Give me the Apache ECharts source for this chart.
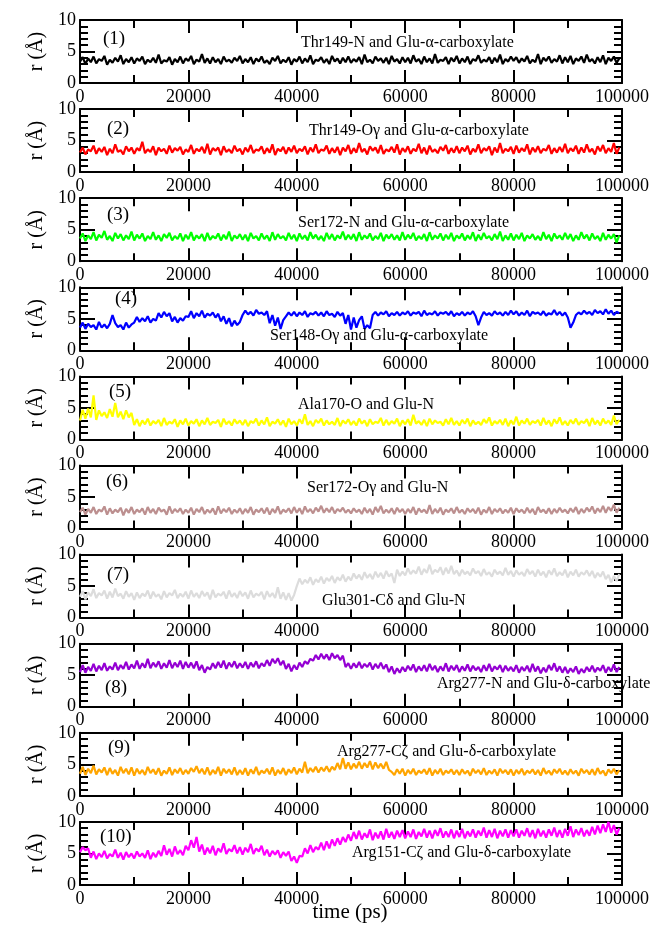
<!DOCTYPE html>
<html>
<head>
<meta charset="utf-8">
<script src="https://cdn.jsdelivr.net/npm/echarts@6/dist/echarts.min.js"></script>
<style>
html,body{margin:0;padding:0;background:#fff}
#main{width:669px;height:933px}
</style>
</head>
<body>
<div id="main"></div>
<script>
// sampling interval of the trajectories (ps)
var timeStep = 500;

var panelTags = ['(1)','(2)','(3)','(4)','(5)','(6)','(7)','(8)','(9)','(10)'];
var panelTitles = [
    'Thr149-N and Glu-α-carboxylate',
    'Thr149-Oγ and Glu-α-carboxylate',
    'Ser172-N and Glu-α-carboxylate',
    'Ser148-Oγ and Glu-α-carboxylate',
    'Ala170-O and Glu-N',
    'Ser172-Oγ and Glu-N',
    'Glu301-Cδ and Glu-N',
    'Arg277-N and Glu-δ-carboxylate',
    'Arg277-Cζ and Glu-δ-carboxylate',
    'Arg151-Cζ and Glu-δ-carboxylate'
];

// distances r (A), one value every 500 ps
var d1 = [3.4,4.1,3.0,3.9,3.3,4.2,3.1,3.8,3.5,4.3,2.9,3.7,3.2,4.0,3.4,4.4,3.0,3.8,3.3,4.1,
    3.1,3.9,3.5,4.2,3.0,3.7,3.3,4.0,3.2,4.5,3.1,3.6,3.4,4.1,2.9,3.8,3.3,4.2,3.1,3.9,
    3.5,4.3,3.0,3.7,3.4,4.6,3.2,3.9,3.1,4.1,3.3,3.8,3.0,4.2,3.4,3.7,3.2,4.0,3.5,4.3,
    3.1,3.8,3.3,4.1,3.0,3.9,3.4,4.2,3.2,3.6,3.0,4.0,3.5,4.3,3.1,3.7,3.3,4.1,2.9,3.8,
    3.4,4.2,3.1,3.9,3.3,4.4,3.0,3.7,3.5,4.1,3.2,3.8,3.0,4.3,3.4,3.9,3.1,4.0,3.3,4.2,
    3.2,3.8,3.4,4.1,3.0,4.5,3.3,3.7,3.1,4.2,3.5,3.9,3.2,4.0,3.0,4.3,3.4,3.8,3.1,4.1,
    3.3,4.0,3.1,4.4,3.4,3.8,3.0,4.2,3.3,3.9,3.1,4.6,3.2,3.7,3.5,4.1,3.0,4.0,3.4,4.3,
    3.1,3.9,3.3,4.2,3.0,3.8,3.5,4.4,3.2,3.7,3.4,4.1,3.1,4.0,3.3,4.5,3.0,3.8,3.4,4.2,
    3.5,4.1,3.2,3.9,3.4,4.3,3.1,3.7,3.3,4.6,3.0,4.0,3.5,4.2,3.2,3.8,3.4,4.4,3.1,4.1,
    3.3,4.3,3.0,3.9,3.5,4.2,3.2,4.5,3.4,3.8,3.1,4.1,3.3,4.4,3.0,4.0,3.5,4.2,3.2,3.9];
var d2 = [3.1,3.9,2.8,3.6,3.3,4.2,2.9,3.8,3.2,4.0,2.7,3.7,3.0,4.4,3.2,3.5,2.8,4.1,3.3,3.9,
    2.9,3.8,3.4,4.8,3.0,3.6,3.2,4.1,2.7,3.9,3.3,3.7,2.9,4.2,3.1,3.8,3.4,4.0,2.8,3.6,
    3.2,4.3,2.9,3.7,3.3,4.0,3.0,4.5,2.8,3.8,3.4,3.9,2.7,4.1,3.2,3.6,3.0,4.2,3.3,3.7,
    2.8,3.9,3.2,4.3,3.0,3.6,3.4,4.1,2.9,3.8,3.1,4.4,2.7,3.7,3.3,4.0,2.9,3.9,3.2,4.2,
    3.0,3.7,3.3,4.1,2.8,3.9,3.2,4.4,3.0,3.6,3.4,4.2,2.9,3.8,3.1,4.0,2.7,3.9,3.3,4.3,
    2.9,3.8,3.1,4.6,3.2,3.7,2.8,4.1,3.4,3.9,3.0,4.3,2.9,3.6,3.3,4.0,3.1,4.4,2.8,3.8,
    3.2,4.1,2.9,3.7,3.3,4.5,3.0,3.9,2.8,4.2,3.2,3.6,3.0,4.0,3.4,4.3,2.9,3.8,3.1,4.1,
    3.0,3.9,3.3,4.2,2.8,3.7,3.2,4.4,3.0,3.8,3.4,4.1,2.7,3.9,3.1,4.6,3.0,3.7,3.3,4.0,
    2.9,4.2,3.1,3.8,3.3,4.4,2.8,3.9,3.2,4.1,3.0,3.7,3.4,4.3,2.9,3.8,3.1,4.0,3.2,4.5,
    3.0,3.8,3.3,4.2,2.9,3.9,3.1,4.4,3.2,3.7,2.8,4.1,3.3,4.3,3.0,3.8,3.2,4.6,2.9,3.9];
var d3 = [3.6,4.4,3.2,4.1,3.5,4.6,3.3,4.2,3.7,4.8,3.4,4.0,3.2,4.5,3.6,4.3,3.3,4.1,3.5,4.7,
    3.3,4.2,3.6,4.4,3.2,4.0,3.5,4.6,3.4,4.1,3.2,4.3,3.7,4.5,3.3,4.0,3.5,4.4,3.2,4.2,
    3.5,4.6,3.3,4.1,3.6,4.3,3.2,4.5,3.4,4.0,3.6,4.4,3.3,4.2,3.5,4.7,3.2,4.1,3.6,4.3,
    3.4,4.2,3.2,4.5,3.6,4.0,3.3,4.4,3.5,4.1,3.2,4.6,3.4,4.3,3.6,4.0,3.3,4.5,3.5,4.2,
    3.2,4.4,3.5,4.1,3.3,4.6,3.6,4.2,3.4,4.0,3.2,4.5,3.5,4.3,3.3,4.1,3.6,4.7,3.4,4.2,
    3.5,4.3,3.2,4.6,3.4,4.1,3.6,4.4,3.3,4.0,3.5,4.5,3.2,4.2,3.6,4.3,3.4,4.1,3.3,4.6,
    3.4,4.2,3.6,4.5,3.3,4.0,3.5,4.3,3.2,4.6,3.4,4.1,3.6,4.4,3.3,4.2,3.5,4.5,3.2,4.1,
    3.6,4.4,3.3,4.1,3.5,4.6,3.2,4.2,3.4,4.5,3.6,4.0,3.3,4.3,3.5,4.7,3.2,4.1,3.4,4.4,
    3.3,4.2,3.5,4.5,3.2,4.1,3.6,4.3,3.4,4.0,3.3,4.6,3.5,4.2,3.2,4.4,3.6,4.1,3.4,4.5,
    3.5,4.3,3.2,4.1,3.4,4.6,3.6,4.2,3.3,4.4,3.5,4.0,3.2,4.5,3.4,4.2,3.6,4.3,3.0,4.1];
var d4 = [3.6,4.4,3.4,4.2,3.7,4.0,3.3,4.5,3.6,4.1,3.5,4.2,5.6,4.3,3.7,4.0,3.3,4.4,3.6,4.1,
    4.4,5.3,4.5,5.1,4.6,5.4,4.4,5.0,4.7,5.9,5.2,6.1,5.4,5.9,4.6,5.3,4.4,5.1,4.7,5.4,
    5.3,6.2,5.1,5.9,5.4,6.3,5.2,5.8,5.5,6.0,5.2,5.8,4.6,5.4,4.2,5.1,3.8,4.7,4.0,4.5,
    5.6,6.3,5.7,6.1,5.5,6.4,5.8,6.0,5.6,6.2,4.3,5.6,3.9,5.2,3.4,4.8,5.4,6.0,5.5,6.1,
    5.4,6.0,5.6,6.2,5.3,5.9,5.7,6.1,5.5,6.0,5.4,6.2,5.6,5.8,5.3,6.1,5.5,5.9,4.2,5.6,
    3.3,5.2,3.6,4.8,5.4,3.4,4.0,3.5,5.6,6.1,5.5,6.0,5.7,6.2,5.4,5.9,5.6,6.1,5.5,6.0,
    5.7,6.2,5.5,6.0,5.8,6.1,5.4,6.3,5.6,5.9,5.7,6.2,5.5,6.0,5.8,6.1,5.6,6.2,5.4,5.9,
    5.6,6.1,5.5,6.0,5.7,6.2,5.4,4.0,5.2,6.1,5.6,5.9,5.5,6.2,5.7,6.0,5.5,6.1,5.6,6.3,
    5.7,6.2,5.5,6.0,5.6,6.3,5.4,6.1,5.8,6.0,5.6,6.2,5.5,5.9,5.7,6.4,5.6,6.1,5.5,6.0,
    5.2,3.6,4.4,5.6,6.0,5.7,6.3,5.8,6.1,5.6,6.4,5.9,6.2,5.7,6.5,5.8,6.3,5.6,6.1,5.9];
var d5 = [3.0,4.7,3.3,4.9,3.5,7.0,3.1,4.6,3.7,4.3,3.4,4.8,3.6,5.8,3.5,4.4,3.2,4.6,3.5,4.2,
    2.3,3.2,2.1,3.0,2.4,3.3,2.2,2.9,2.5,3.1,2.1,3.4,2.3,2.8,2.5,3.2,2.0,3.0,2.4,3.3,
    2.2,2.9,2.5,3.2,2.1,3.0,2.4,3.4,2.3,2.8,2.6,3.1,2.0,3.3,2.4,2.9,2.2,3.2,2.5,3.0,
    2.3,3.1,2.1,2.9,2.6,3.3,2.2,3.0,2.4,3.5,2.1,2.8,2.5,3.2,2.3,3.0,2.0,3.3,2.4,2.9,
    2.2,3.2,2.5,4.0,2.3,2.9,2.1,3.1,2.6,3.3,2.2,3.0,2.4,2.8,2.3,3.4,2.1,3.0,2.5,3.2,
    2.3,2.9,2.2,3.3,2.5,3.0,2.1,3.2,2.4,2.8,2.6,3.4,2.2,3.1,2.3,2.9,2.5,3.3,2.1,3.0,
    2.4,3.2,2.2,3.9,2.5,2.9,2.3,3.1,2.1,3.3,2.4,3.0,2.6,2.8,2.2,3.2,2.4,3.4,2.3,2.9,
    2.2,3.1,2.5,3.3,2.1,3.0,2.4,2.8,2.3,3.2,2.6,3.5,2.2,2.9,2.5,3.1,2.3,3.3,2.1,3.0,
    2.4,3.6,2.2,3.0,2.5,3.3,2.3,2.9,2.6,3.1,2.2,3.4,2.4,3.0,2.1,3.2,2.5,3.5,2.3,2.9,
    2.2,3.1,2.5,3.3,2.3,2.9,2.6,3.2,2.1,3.4,2.4,3.0,2.2,3.3,2.5,3.0,2.3,3.8,2.4,3.1];
var d6 = [2.6,3.3,2.2,3.1,2.5,3.4,2.3,3.0,2.7,3.5,2.2,3.2,2.4,3.0,2.6,3.3,2.1,3.1,2.5,3.4,
    2.3,3.0,2.6,3.2,2.2,3.4,2.5,3.1,2.3,3.3,2.7,3.0,2.2,3.5,2.4,3.1,2.6,3.2,2.3,3.0,
    2.5,3.3,2.2,3.1,2.6,3.4,2.3,3.0,2.5,3.2,2.2,3.5,2.4,3.1,2.6,3.3,2.3,3.0,2.5,3.2,
    2.3,3.1,2.5,3.4,2.2,3.0,2.6,3.2,2.4,3.3,2.2,3.1,2.5,3.5,2.3,3.0,2.6,3.2,2.4,3.4,
    2.5,3.2,2.3,3.5,2.6,3.1,2.4,3.3,2.7,3.6,2.5,3.2,2.6,3.4,2.4,3.1,2.7,3.3,2.5,3.0,
    2.4,3.2,2.6,3.0,2.3,3.3,2.5,3.1,2.2,3.4,2.6,3.6,2.4,3.0,2.5,3.2,2.3,3.3,2.6,3.1,
    2.3,3.1,2.5,3.4,2.2,3.2,2.6,3.0,2.4,3.7,2.3,3.1,2.5,3.3,2.2,3.0,2.6,3.2,2.4,3.4,
    2.5,3.0,2.3,3.2,2.6,3.1,2.4,3.3,2.2,3.0,2.5,3.4,2.3,3.1,2.6,3.2,2.4,3.0,2.5,3.3,
    2.3,3.2,2.6,3.0,2.4,3.3,2.5,3.1,2.2,3.4,2.6,3.0,2.4,3.2,2.3,3.1,2.5,3.3,2.6,3.0,
    2.4,3.2,2.6,3.4,2.3,3.1,2.5,3.3,2.7,3.5,2.4,3.2,2.6,3.6,2.5,3.4,2.8,3.8,2.5,3.3];
var d7 = [3.3,4.2,2.9,4.0,3.4,4.5,3.1,3.9,3.5,4.3,3.0,4.1,3.2,4.6,3.4,3.8,3.0,4.2,3.3,3.9,
    2.8,4.0,3.1,3.8,3.4,4.3,3.0,4.1,3.3,3.7,2.9,4.2,3.2,3.9,3.5,4.4,3.1,3.8,3.3,4.1,
    3.0,4.3,3.3,3.9,3.1,4.2,3.4,4.0,2.9,4.4,3.2,3.8,3.5,4.1,3.0,4.3,3.3,3.9,3.1,4.2,
    3.4,4.0,3.0,4.3,3.2,3.8,3.5,4.1,2.9,4.2,3.3,3.9,3.1,4.8,3.0,4.0,2.8,3.9,2.7,3.6,
    5.0,6.2,5.3,6.0,5.5,6.4,5.2,6.1,5.6,6.5,5.4,6.3,5.8,6.6,5.5,6.4,5.9,6.8,5.7,6.5,
    5.9,7.0,6.2,6.8,6.0,7.2,6.3,6.9,6.1,7.3,6.4,7.1,6.2,7.4,6.5,7.0,5.5,7.6,6.6,7.3,
    6.7,7.8,6.9,7.5,7.0,8.1,6.8,7.7,7.1,8.4,6.9,7.6,7.2,8.0,6.8,7.9,7.0,8.2,6.9,7.5,
    6.6,7.6,6.9,7.3,6.7,7.8,7.0,7.4,6.6,7.7,6.8,7.2,6.5,7.6,6.9,7.3,6.7,7.9,6.8,7.4,
    6.5,7.5,6.8,7.2,6.6,7.7,6.9,7.4,6.5,7.6,6.7,7.3,6.4,7.5,6.8,7.8,6.6,7.2,6.7,7.6,
    6.4,7.3,6.7,7.6,6.5,7.2,6.8,7.5,6.6,7.4,6.3,7.1,6.5,7.3,6.1,6.8,5.6,6.6,5.8,6.9];
var d8 = [5.5,6.6,5.4,6.3,5.7,6.8,5.6,6.5,5.8,6.9,5.7,6.4,5.9,7.0,5.8,6.6,6.0,7.1,5.9,6.7,
    6.1,7.3,6.0,6.9,6.2,7.6,6.1,7.0,6.3,7.2,6.0,6.9,6.2,7.4,6.1,7.0,6.3,7.3,6.0,7.1,
    6.2,7.0,6.1,7.2,5.8,6.6,5.4,6.3,5.9,6.9,6.1,7.1,6.2,7.3,6.0,7.0,6.3,7.2,6.1,6.9,
    6.2,7.1,6.0,7.0,6.3,7.2,6.1,6.9,6.4,7.4,6.5,7.6,6.9,7.7,6.6,7.3,6.0,6.8,5.6,6.6,
    5.9,7.0,6.3,7.2,6.8,7.6,7.3,8.2,7.5,8.4,7.6,8.3,7.4,8.5,7.7,8.2,7.4,8.1,6.3,6.9,
    6.0,6.9,6.2,7.1,6.1,6.8,6.3,7.0,5.9,6.8,6.1,7.0,6.0,6.7,5.5,6.4,5.2,6.1,5.4,6.3,
    5.6,6.5,5.8,6.7,5.5,6.4,5.7,6.6,5.6,6.8,5.8,6.5,5.5,6.4,5.7,6.9,5.6,6.5,5.8,6.6,
    5.5,6.4,5.7,6.7,5.6,6.5,5.8,6.3,5.5,6.6,5.7,6.8,5.6,6.4,5.9,6.6,5.5,6.5,5.7,6.3,
    5.6,6.6,5.4,6.3,5.7,6.5,5.5,6.8,5.6,6.4,5.3,6.2,5.5,6.6,5.8,6.9,5.6,6.4,5.4,6.3,
    5.3,6.1,5.5,6.4,5.2,6.0,5.4,6.3,5.6,6.5,5.5,6.2,5.7,6.6,5.4,6.3,5.6,6.7,5.5,6.3];
var d9 = [3.5,4.6,3.3,4.3,3.6,4.8,3.4,4.2,3.7,4.5,3.3,4.4,3.5,4.1,3.2,4.6,3.6,4.3,3.4,4.5,
    3.2,4.3,3.5,4.1,3.3,4.6,3.6,4.2,3.4,4.4,3.2,4.0,3.5,4.5,3.3,4.2,3.6,4.4,3.4,4.1,
    3.5,4.4,3.8,4.7,3.6,4.3,3.4,4.5,3.3,4.1,3.5,4.6,3.2,4.3,3.6,4.2,3.4,4.5,3.3,4.1,
    3.4,4.4,3.2,4.2,3.5,4.6,3.3,4.0,3.6,4.3,3.4,4.5,3.2,4.1,3.5,4.4,3.3,4.2,3.6,4.5,
    3.4,4.3,3.7,5.4,3.6,4.4,3.8,4.6,3.7,4.5,3.9,4.7,3.8,4.6,4.1,5.2,4.2,6.0,4.3,5.3,
    4.2,5.1,4.4,5.4,4.3,5.2,4.5,5.5,4.2,5.3,4.4,5.1,4.3,5.4,4.1,3.8,3.3,4.2,3.5,4.3,
    3.2,4.1,3.5,4.3,3.3,4.0,3.6,4.2,3.4,4.4,3.2,4.1,3.5,4.3,3.3,4.0,3.6,4.2,3.4,4.1,
    3.3,4.2,3.5,4.0,3.2,4.3,3.6,4.1,3.4,4.4,3.3,4.0,3.5,4.2,3.2,4.3,3.6,4.1,3.4,4.2,
    3.2,4.1,3.5,4.3,3.3,4.0,3.6,4.2,3.4,4.1,3.2,4.4,3.5,4.0,3.3,4.2,3.6,4.3,3.4,4.0,
    3.3,4.2,3.5,4.0,3.2,4.3,3.6,4.1,3.4,4.2,3.3,4.4,3.5,4.0,3.2,4.2,3.6,4.3,3.4,4.1];
var d10 = [5.2,6.0,5.5,5.8,4.3,5.3,4.1,5.0,4.4,5.4,4.2,4.9,4.5,5.6,4.3,5.1,4.0,5.2,4.4,5.0,
    4.2,5.3,4.5,5.0,4.3,5.5,4.1,5.1,4.4,5.4,4.6,6.3,4.8,5.7,4.5,6.1,4.9,5.5,4.7,6.2,
    5.5,7.1,5.9,7.6,5.3,6.4,4.8,5.9,5.0,6.2,4.7,5.8,5.2,6.6,4.9,5.7,5.3,6.3,5.0,6.0,
    4.8,5.9,5.2,6.5,4.9,5.8,5.3,6.2,4.7,5.6,4.5,5.4,4.8,5.5,4.3,5.2,4.6,5.3,3.8,4.5,
    3.5,4.6,4.5,5.8,5.0,6.3,5.2,6.0,5.6,6.7,5.5,6.9,5.8,7.2,6.2,7.4,6.4,7.6,6.8,8.0,
    7.0,8.4,7.3,8.6,7.2,8.2,7.5,8.8,7.1,8.3,7.4,8.5,7.2,8.9,7.5,8.4,7.3,8.6,7.6,8.7,
    7.4,8.5,7.6,8.8,7.3,8.4,7.7,8.9,7.5,8.6,7.4,8.7,7.8,9.0,7.5,8.5,7.6,8.8,7.4,8.6,
    7.6,8.9,7.4,8.5,7.7,8.8,7.5,8.6,7.8,9.1,7.5,8.7,7.6,8.9,7.4,8.6,7.7,8.8,7.5,8.7,
    7.7,8.8,7.5,8.6,7.8,9.0,7.6,8.7,7.4,8.9,7.7,8.6,7.5,8.8,7.8,9.1,7.6,8.7,7.5,8.9,
    7.8,9.3,7.6,8.8,7.9,9.0,7.7,8.7,7.8,9.2,8.0,9.4,8.2,9.6,8.4,10.0,8.3,9.5,8.0,9.0];

var allData = [d1,d2,d3,d4,d5,d6,d7,d8,d9,d10];
var lineColors = ['#000000','#ff0000','#00ff00','#0000ff','#ffff00','#bc8f8f','#dcdcdc','#9400d3','#ffa500','#ff00ff'];

// [tagX, tagY, titleX, titleY]  (px)
var labelPos = [
    [103,39,301,43],
    [107,129,309,131],
    [107,215,298,223],
    [115,299,270,336],
    [109,392,298,405],
    [106,482,307,488],
    [107,575,322,601],
    [105,688,437,684],
    [108,748,337,752],
    [100,837,352,853]
];

var fontF = '"Liberation Serif","Times New Roman",serif';
var chart = echarts.init(document.getElementById('main'));

function blackLine(w) {
    return {color: '#000', width: w};
}
function makeX(i, pos) {
    return {
        gridIndex: i, type: 'value', min: 0, max: 100000, interval: 20000, position: pos,
        axisLine: {onZero: false, lineStyle: blackLine(2)},
        axisTick: {inside: true, length: 13, lineStyle: blackLine(2)},
        minorTick: {show: true, splitNumber: 2, length: 8, lineStyle: blackLine(2)},
        splitLine: {show: false},
        axisLabel: pos === 'bottom'
            ? {color: '#000', fontSize: 18, fontFamily: fontF, margin: 5,
               formatter: function (v) { return String(v); }}
            : {show: false}
    };
}
function makeY(i, pos) {
    var ax = {
        gridIndex: i, type: 'value', min: 0, max: 10, interval: 5, position: pos,
        axisLine: {show: true, onZero: false, lineStyle: blackLine(2)},
        axisTick: {show: true, inside: true, length: 15, lineStyle: blackLine(2)},
        minorTick: {show: true, splitNumber: 5, length: 8, lineStyle: blackLine(2)},
        splitLine: {show: false},
        axisLabel: {show: false}
    };
    if (pos === 'left') {
        ax.name = 'r (Å)';
        ax.nameLocation = 'middle';
        ax.nameGap = 32;
        ax.nameTextStyle = {color: '#000', fontSize: 20, fontFamily: fontF};
        ax.axisLabel = {color: '#000', fontSize: 18, fontFamily: fontF, margin: 4};
    }
    return ax;
}

var grids = [], xAxes = [], yAxes = [], series = [], graphics = [];
for (var i = 0; i < 10; i++) {
    var gridTop = 20 + i * 89.1;
    grids.push({left: 80, width: 542, top: gridTop, height: 63});
    xAxes.push(makeX(i, 'bottom'));
    xAxes.push(makeX(i, 'top'));
    yAxes.push(makeY(i, 'left'));
    yAxes.push(makeY(i, 'right'));

    var pts = [];
    for (var k = 0; k < allData[i].length; k++) {
        pts.push([k * timeStep, allData[i][k]]);
    }
    series.push({
        type: 'line', xAxisIndex: 2 * i, yAxisIndex: 2 * i,
        data: pts, showSymbol: false, silent: true,
        lineStyle: {color: lineColors[i], width: 2.2}
    });

    var p = labelPos[i];
    graphics.push({type: 'text', x: p[0], y: p[1], z: 100,
        style: {text: panelTags[i], fill: '#000', fontSize: 19, fontFamily: fontF, verticalAlign: 'middle'}});
    graphics.push({type: 'text', x: p[2], y: p[3], z: 100,
        style: {text: panelTitles[i], fill: '#000', fontSize: 16, fontFamily: fontF, verticalAlign: 'middle'}});
}
graphics.push({type: 'text', x: 350, y: 912, z: 100,
    style: {text: 'time (ps)', fill: '#000', fontSize: 21, fontFamily: fontF, align: 'center', verticalAlign: 'middle'}});

chart.setOption({
    animation: false,
    backgroundColor: '#fff',
    grid: grids,
    xAxis: xAxes,
    yAxis: yAxes,
    series: series,
    graphic: graphics
});
</script>
</body>
</html>
